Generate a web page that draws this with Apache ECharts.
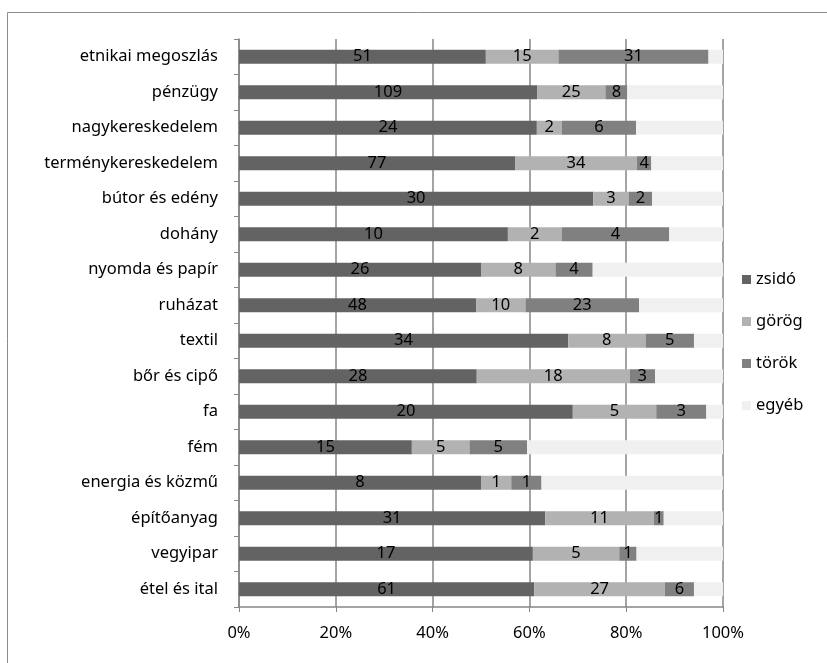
<!DOCTYPE html>
<html>
<head>
<meta charset="utf-8">
<script src="https://cdn.jsdelivr.net/npm/echarts@6/dist/echarts.min.js"></script>
<style>
  html, body { margin: 0; padding: 0; background: #fff; }
  #chart { width: 827px; height: 663px; }
</style>
</head>
<body>
<div id="chart"></div>
<script>
// ágazatok (felülről lefelé)
const categories = ['etnikai megoszlás', 'pénzügy', 'nagykereskedelem', 'terménykereskedelem',
    'bútor és edény', 'dohány', 'nyomda és papír', 'ruházat', 'textil', 'bőr és cipő', 'fa',
    'fém', 'energia és közmű', 'építőanyag', 'vegyipar', 'étel és ital'];
const zsido = [51, 109, 24, 77, 30, 10, 26, 48, 34, 28, 20, 15, 8, 31, 17, 61];
const gorog = [15, 25, 2, 34, 3, 2, 8, 10, 8, 18, 5, 5, 1, 11, 5, 27];
const torok = [31, 8, 6, 4, 2, 4, 4, 23, 5, 3, 3, 5, 1, 1, 1, 6];
// "egyéb" nincs felcímkézve, a sávszélességből becsülve
const egyeb = [3, 35, 7, 20, 6, 2, 14, 17, 3, 8, 1, 17, 6, 6, 5, 6];
const xTicks = ['0%', '20%', '40%', '60%', '80%', '100%'];

const font = 'Noto Sans';
const totals = categories.map((_, i) => zsido[i] + gorog[i] + torok[i] + egyeb[i]);

function makeSeries(name, counts, color, showLabel) {
    return {
        name: name,
        type: 'bar',
        stack: 'all',
        barWidth: 14,
        itemStyle: { color: color },
        label: {
            show: showLabel,
            position: 'inside',
            color: '#000',
            fontFamily: font,
            fontSize: 16.5,
            offset: [0, 1],
            formatter: p => String(counts[p.dataIndex])
        },
        labelLayout: { hideOverlap: false },
        data: counts.map((v, i) => v / totals[i] * 100)
    };
}

const chart = echarts.init(document.getElementById('chart'));
chart.setOption({
    animation: false,
    graphic: [{
        type: 'rect',
        shape: { x: 7.5, y: 12.5, width: 840, height: 700 },
        style: { fill: 'none', stroke: '#8c8c8c', lineWidth: 1 }
    }],
    grid: { left: 239, right: 104, top: 39, bottom: 56 },
    legend: {
        orient: 'vertical',
        left: 737,
        top: 266,
        itemWidth: 9,
        itemHeight: 9,
        itemGap: 25,
        icon: 'rect',
        textStyle: { fontFamily: font, fontSize: 16.5, color: '#000' },
        data: ['zsidó', 'görög', 'török', 'egyéb']
    },
    xAxis: {
        type: 'value',
        min: 0,
        max: 100,
        interval: 20,
        axisLine: { show: true, lineStyle: { color: '#868686', width: 1.5 } },
        axisTick: { show: true, length: 5, lineStyle: { color: '#868686' } },
        axisLabel: {
            margin: 18,
            fontFamily: font,
            fontSize: 16.5,
            color: '#000',
            formatter: v => xTicks[v / 20]
        },
        splitLine: { show: true, lineStyle: { color: '#868686', width: 1.5 } }
    },
    yAxis: {
        type: 'category',
        inverse: true,
        data: categories,
        axisLine: { show: true, lineStyle: { color: '#868686', width: 1.5 } },
        axisTick: { show: true, length: 5, lineStyle: { color: '#868686' } },
        axisLabel: { margin: 21, fontFamily: font, fontSize: 16.5, color: '#000' }
    },
    series: [
        makeSeries('zsidó', zsido, '#636363', true),
        makeSeries('görög', gorog, '#b2b2b2', true),
        makeSeries('török', torok, '#808080', true),
        makeSeries('egyéb', egyeb, '#f0f0f0', false)
    ]
});
</script>
</body>
</html>
